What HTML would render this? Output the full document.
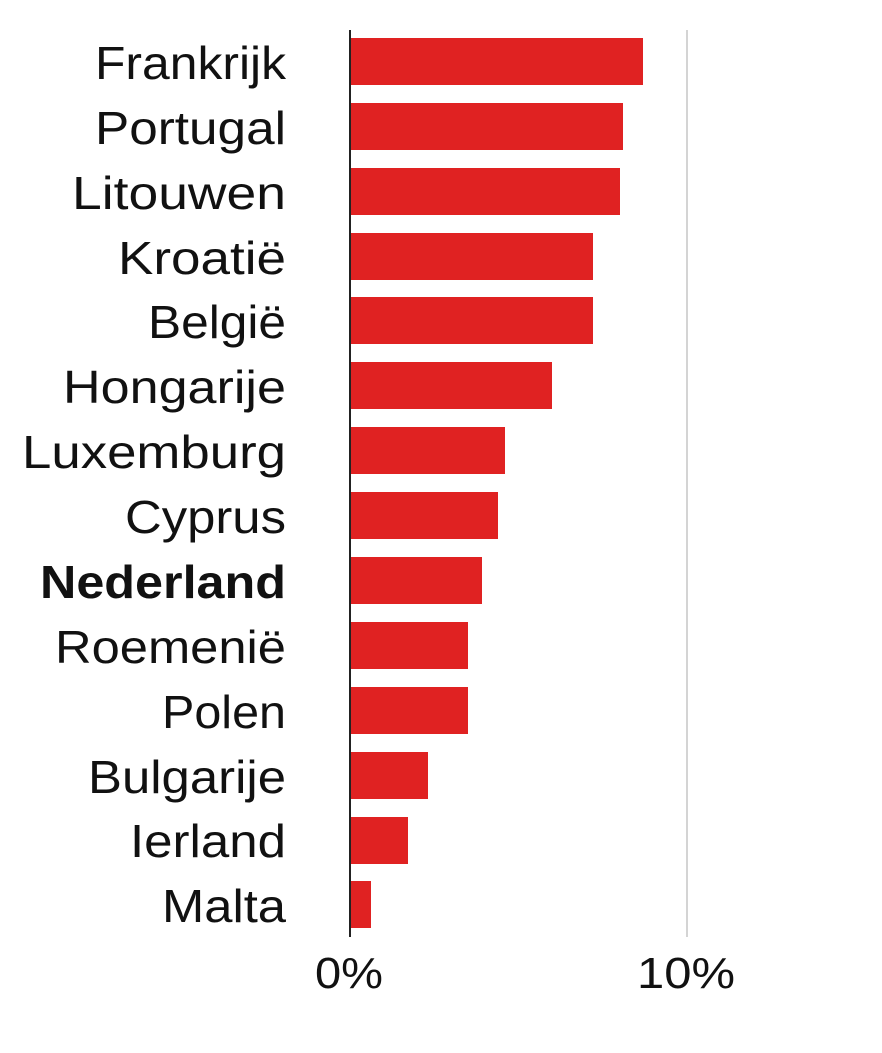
<!DOCTYPE html>
<html><head><meta charset="utf-8"><style>
body{margin:0;background:#fff;width:882px;height:1048px;overflow:hidden}
svg text{font-family:"Liberation Sans",sans-serif;fill:#111}
</style></head><body>
<svg width="882" height="1048" xmlns="http://www.w3.org/2000/svg">
<line x1="687" y1="30" x2="687" y2="937" stroke="#d4d4d4" stroke-width="2"/>
<g fill="#e02222">
<rect x="350" y="38" width="293" height="47"/>
<rect x="350" y="103" width="273" height="47"/>
<rect x="350" y="168" width="270" height="47"/>
<rect x="350" y="233" width="243" height="47"/>
<rect x="350" y="297" width="243" height="47"/>
<rect x="350" y="362" width="202" height="47"/>
<rect x="350" y="427" width="155" height="47"/>
<rect x="350" y="492" width="148" height="47"/>
<rect x="350" y="557" width="132" height="47"/>
<rect x="350" y="622" width="118" height="47"/>
<rect x="350" y="687" width="118" height="47"/>
<rect x="350" y="752" width="78" height="47"/>
<rect x="350" y="817" width="58" height="47"/>
<rect x="350" y="881" width="21" height="47"/>
</g>
<line x1="350" y1="30" x2="350" y2="937" stroke="#222" stroke-width="2"/>
<g font-size="46" text-anchor="end" lengthAdjust="spacingAndGlyphs">
<text x="286" y="79" textLength="191" lengthAdjust="spacingAndGlyphs">Frankrijk</text>
<text x="286" y="144" textLength="191" lengthAdjust="spacingAndGlyphs">Portugal</text>
<text x="286" y="209" textLength="214" lengthAdjust="spacingAndGlyphs">Litouwen</text>
<text x="286" y="274" textLength="168" lengthAdjust="spacingAndGlyphs">Kroatië</text>
<text x="286" y="338" textLength="138" lengthAdjust="spacingAndGlyphs">België</text>
<text x="286" y="403" textLength="223" lengthAdjust="spacingAndGlyphs">Hongarije</text>
<text x="286" y="468" textLength="264" lengthAdjust="spacingAndGlyphs">Luxemburg</text>
<text x="286" y="533" textLength="161" lengthAdjust="spacingAndGlyphs">Cyprus</text>
<text x="286" y="598" font-weight="bold" textLength="246" lengthAdjust="spacingAndGlyphs">Nederland</text>
<text x="286" y="663" textLength="231" lengthAdjust="spacingAndGlyphs">Roemenië</text>
<text x="286" y="728" textLength="124" lengthAdjust="spacingAndGlyphs">Polen</text>
<text x="286" y="793" textLength="198" lengthAdjust="spacingAndGlyphs">Bulgarije</text>
<text x="286" y="857" textLength="156" lengthAdjust="spacingAndGlyphs">Ierland</text>
<text x="286" y="922" textLength="124" lengthAdjust="spacingAndGlyphs">Malta</text>
</g>
<g font-size="44">
<text x="315" y="988" textLength="68" lengthAdjust="spacingAndGlyphs">0%</text>
<text x="637" y="988" textLength="98" lengthAdjust="spacingAndGlyphs">10%</text>
</g>
</svg>
</body></html>
